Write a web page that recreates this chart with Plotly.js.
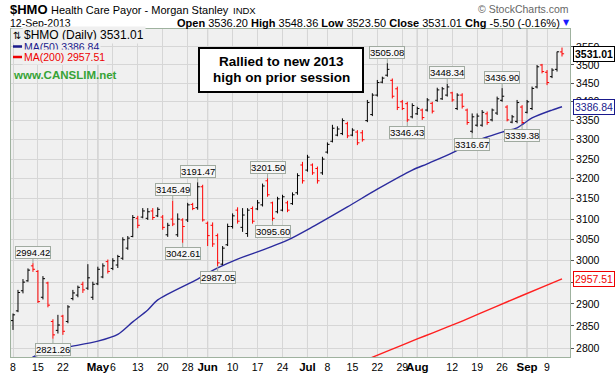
<!DOCTYPE html>
<html>
<head>
<meta charset="utf-8">
<script src="https://cdn.plot.ly/plotly-3.0.1.min.js"></script>
<style>html,body{margin:0;padding:0;background:#fff;}#chart{width:615px;height:377px;}</style>
</head>
<body>
<div id="chart"></div>
<script>
const dates = [
'2013-04-08','2013-04-09','2013-04-10','2013-04-11','2013-04-12','2013-04-15','2013-04-16','2013-04-17','2013-04-18','2013-04-19',
'2013-04-22','2013-04-23','2013-04-24','2013-04-25','2013-04-26','2013-04-29','2013-04-30',
'2013-05-01','2013-05-02','2013-05-03','2013-05-06','2013-05-07','2013-05-08','2013-05-09','2013-05-10','2013-05-13','2013-05-14',
'2013-05-15','2013-05-16','2013-05-17','2013-05-20','2013-05-21','2013-05-22','2013-05-23','2013-05-24','2013-05-28','2013-05-29',
'2013-05-30','2013-05-31',
'2013-06-03','2013-06-04','2013-06-05','2013-06-06','2013-06-07','2013-06-10','2013-06-11','2013-06-12','2013-06-13','2013-06-14',
'2013-06-17','2013-06-18','2013-06-19','2013-06-20','2013-06-21','2013-06-24','2013-06-25','2013-06-26','2013-06-27','2013-06-28',
'2013-07-01','2013-07-02','2013-07-03','2013-07-05','2013-07-08','2013-07-09','2013-07-10','2013-07-11','2013-07-12','2013-07-15',
'2013-07-16','2013-07-17','2013-07-18','2013-07-19','2013-07-22','2013-07-23','2013-07-24','2013-07-25','2013-07-26','2013-07-29',
'2013-07-30','2013-07-31',
'2013-08-01','2013-08-02','2013-08-05','2013-08-06','2013-08-07','2013-08-08','2013-08-09','2013-08-12','2013-08-13','2013-08-14',
'2013-08-15','2013-08-16','2013-08-19','2013-08-20','2013-08-21','2013-08-22','2013-08-23','2013-08-26','2013-08-27','2013-08-28',
'2013-08-29','2013-08-30',
'2013-09-03','2013-09-04','2013-09-05','2013-09-06','2013-09-09','2013-09-10','2013-09-11','2013-09-12'
];

const openPx = [
2862,2884,2930,2953,2988,2975,2915,2948,2860,2840,
2872,2860,2912,2920,2945,2936,2915,2946,2962,2998,
2982,2990,3006,3030,3058,3102,3105,3102,3120,3108,
3105,3062,3100,3062,3098,3098,3136,3128,3180,3090,
3085,3060,2992,3038,3082,3122,3080,3065,3126,3125,
3135,3195,3140,3118,3122,3140,3138,3165,3235,3222,
3235,3226,3215,3268,3296,3312,3316,3342,3312,3320,
3318,3350,3366,3418,3453,3472,3458,3435,3400,3395,
3360,3368,3378,3378,3396,3404,3408,3418,3424,3382,
3418,3378,3322,3338,3338,3368,3352,3370,3404,3386,
3346,3348,3386,3372,3382,3440,3500,3480,3468,3488,
3536.20
];
const highPx = [
2878,2932,2957,2982,2994.42,2978,2964,2951,2865,2875,
2875,2897,2932,2942,2951,2992,2951,2986,2994,3003,
3006,3014,3056,3059,3110,3108,3127,3127,3127,3129,
3110,3091,3145.49,3114,3102,3140,3140,3191.47,3185,3094,
3092,3065,3035,3089,3114,3129,3127,3127,3131,3147,
3188,3201.50,3143,3155,3160,3145,3166,3214,3243,3261,
3239,3231,3256,3293,3339,3335,3356,3347,3330,3325,
3325,3405,3423,3459,3468,3505.08,3463,3441,3405,3400,
3396,3387,3382,3410,3400,3438,3440,3448.34,3427,3423,
3423,3382,3369,3369,3378,3374,3382,3414,3436.90,3391,
3365,3405,3391,3405,3441,3500,3503,3486,3491,3537,
3548.36
];
const lowPx = [
2841,2881,2924,2951,2974,2902,2910,2892,2821.26,2833,
2830,2856,2908,2915,2925,2932,2909,2943,2959,2970,
2978,2983,3002,3026,3056,3078,3102,3098,3098,3105,
3074,3057,3083,3057,3042.61,3093,3122,3123,3094,3035,
3033,2987.05,2990,3035,3077,3089,3069,3057,3089,3122,
3131,3155,3095.60,3114,3119,3117,3135,3160,3188,3218,
3210,3188,3210,3264,3293,3309,3312,3304,3309,3286,
3295,3346,3362,3414,3450,3468,3409,3378,3378,3346.43,
3356,3365,3352,3374,3369,3400,3405,3414,3400,3378,
3382,3339,3316.67,3334,3334,3339,3348,3365,3400,3348,
3343,3343,3339.38,3369,3378,3436,3477,3445,3464,3482,
3523.50
];
const closePx = [
2875,2926,2950,2978,2980,2905,2958,2897,2830,2852,
2838,2893,2925,2938,2932,2960,2945,2980,2988,2975,
3000,3010,3050,3054,3104,3085,3120,3118,3104,3124,
3080,3085,3088,3100,3082,3135,3126,3180,3098,3060,
3040,2995,3030,3082,3108,3095,3110,3122,3095,3140,
3182,3160,3102,3150,3155,3122,3160,3208,3195,3255,
3215,3195,3250,3288,3330,3328,3350,3310,3325,3292,
3300,3398,3418,3452,3464,3488,3415,3385,3382,3352,
3390,3382,3358,3405,3375,3432,3435,3440,3405,3418,
3388,3345,3360,3362,3372,3345,3378,3408,3415,3352,
3360,3398,3345,3400,3436,3495,3482,3452,3486,3536.51,
3531.01
];

const ma50Dates = ['2013-04-11','2013-04-12','2013-04-18','2013-04-23','2013-05-01','2013-05-07','2013-05-10','2013-05-15','2013-05-17',
'2013-05-30','2013-06-05','2013-06-11','2013-06-19','2013-06-25','2013-07-02','2013-07-12','2013-07-22','2013-07-31','2013-08-05',
'2013-08-12','2013-08-16','2013-08-21','2013-08-26','2013-08-29','2013-09-04','2013-09-10','2013-09-12'];
const ma50Values = [2770,2781,2796,2803,2816,2831,2859,2886,2909,
2957,2983,3004,3030,3049,3081,3130,3174,3222,3238,
3266,3294,3307,3320,3331,3357,3378,3386.84];

const ma200Dates = ['2013-07-18','2013-07-24','2013-08-01','2013-08-06','2013-08-14','2013-08-23','2013-09-09','2013-09-12'];
const ma200Values = [2776,2794,2821,2834,2861,2895,2943,2957.51];

const weekDates = ['2013-04-08','2013-04-15','2013-04-22','2013-04-29','2013-05-01','2013-05-06','2013-05-13','2013-05-20','2013-05-28',
'2013-06-03','2013-06-10','2013-06-17','2013-06-24','2013-07-01','2013-07-08','2013-07-15','2013-07-22','2013-07-29','2013-08-01',
'2013-08-05','2013-08-12','2013-08-19','2013-08-26','2013-09-03','2013-09-09'];
const weekLabels = ['8','15','22','','May','6','13','20','28','Jun','10','17','24','Jul','8','15','22','29','Aug','','12','19','26','Sep','9'];
const monthStarts = ['2013-05-01','2013-06-03','2013-07-01','2013-08-01','2013-09-03'];

const yTicks = [2800,2850,2900,2950,3000,3050,3100,3150,3200,3250,3300,3350,3400,3450,3500,3550];

const calloutDates = ['2013-04-12','2013-04-18','2013-05-22','2013-05-24','2013-05-30','2013-06-05','2013-06-19','2013-06-20',
'2013-07-24','2013-07-30','2013-08-09','2013-08-16','2013-08-26','2013-08-30'];
const calloutKinds = ['H','L','H','L','H','L','H','L','H','L','H','L','H','L'];

const noteLines = ['Rallied to new 2013','high on prior session'];
const priorHighDate = '2013-07-24';

// ---------- layout helpers ----------
const PL = 11, PR = 570, PT = 29, PB = 357;
const px = x => (x - PL) / (PR - PL);
const py = y => (PB - y) / (PB - PT);
const FONT = 'Liberation Sans, Arial, sans-serif';
const idx = d => dates.indexOf(d);
const last = dates.length - 1;

const traces = [
  {
    type: 'ohlc', x: dates, open: openPx, high: highPx, low: lowPx, close: closePx,
    increasing: {line: {color: '#000000', width: 1}},
    decreasing: {line: {color: '#ff0000', width: 1}},
    tickwidth: 0.42, hoverinfo: 'skip', showlegend: false
  },
  {type: 'scatter', mode: 'lines', x: ma50Dates, y: ma50Values, line: {color: '#2b2b9e', width: 1.4, shape: 'spline', smoothing: 0.8}, hoverinfo: 'skip'},
  {type: 'scatter', mode: 'lines', x: ma200Dates, y: ma200Values, line: {color: '#ff2020', width: 1.4, shape: 'spline', smoothing: 0.6}, hoverinfo: 'skip'}
];

const annotations = [];
function txt(x, y, text, opts) {
  annotations.push(Object.assign({
    xref: 'paper', yref: 'paper', x: px(x), y: py(y), text: text, showarrow: false,
    xanchor: 'left', yanchor: 'middle', font: {family: FONT, size: 11, color: '#000'}
  }, opts || {}));
}

// header
txt(8, 9.5, '<b>$HMO</b>', {font: {family: FONT, size: 13, color: '#000'}});
txt(49, 10, 'Health Care Payor - Morgan Stanley', {font: {family: FONT, size: 11, color: '#000'}});
txt(231, 10.5, 'INDX', {font: {family: FONT, size: 9.5, color: '#000'}});
txt(8, 22.5, '12-Sep-2013', {font: {family: FONT, size: 10.5, color: '#000'}});
const chg = closePx[last] - closePx[last - 1];
const pct = chg / closePx[last - 1] * 100;
const stats = '<b>Open</b> ' + openPx[last].toFixed(2) + ' <b>High</b> ' + highPx[last].toFixed(2) +
  ' <b>Low</b> ' + lowPx[last].toFixed(2) + ' <b>Close</b> ' + closePx[last].toFixed(2) +
  ' <b>Chg</b> ' + chg.toFixed(2) + ' (' + pct.toFixed(2) + '%)';
txt(562, 22.5, stats, {xanchor: 'right', font: {family: FONT, size: 11, color: '#000'}});
txt(566, 22.5, '▼', {xanchor: 'center', font: {family: 'DejaVu Sans', size: 8, color: '#1a1aff'}});
txt(571, 8.5, '© StockCharts.com', {xanchor: 'right', font: {family: FONT, size: 10.5, color: '#666'}});

// legend
txt(11, 35.5, '⇅', {font: {family: 'DejaVu Sans', size: 10, color: '#000'}, bgcolor: '#f0f0f0'});
txt(22, 35.5, '$HMO (Daily) ' + closePx[last].toFixed(2), {font: {family: FONT, size: 12, color: '#000'}, bgcolor: '#f0f0f0'});
txt(22, 46.5, 'MA(50) ' + ma50Values[ma50Values.length - 1].toFixed(2), {font: {family: FONT, size: 10.5, color: '#1a1a8c'}, bgcolor: '#f0f0f0'});
txt(22, 57, 'MA(200) ' + ma200Values[ma200Values.length - 1].toFixed(2), {font: {family: FONT, size: 10.5, color: '#ee0000'}, bgcolor: '#f0f0f0'});
txt(11, 75, '<b>www.CANSLIM.net</b>', {font: {family: FONT, size: 11.5, color: '#36a336'}});

// note box text
txt(281, 62, '<b>' + noteLines[0] + '</b>', {xanchor: 'center', font: {family: FONT, size: 13.5, color: '#000'}});
txt(281, 77.5, '<b>' + noteLines[1] + '</b>', {xanchor: 'center', font: {family: FONT, size: 13.5, color: '#000'}});

// callouts
calloutDates.forEach((d, k) => {
  const i = idx(d);
  const v = calloutKinds[k] === 'H' ? highPx[i] : lowPx[i];
  annotations.push({
    xref: 'x', yref: 'y', x: i, y: Math.log10(v), text: v.toFixed(2),
    showarrow: true, arrowhead: 0, arrowwidth: 1, arrowcolor: '#a0aaa0', ax: 0,
    ay: calloutKinds[k] === 'H' ? -11 : 11,
    bgcolor: '#f6f6f6', bordercolor: '#a0aaa0', borderwidth: 1, borderpad: 0,
    font: {family: FONT, size: 9.5, color: '#000'}
  });
});

// right axis value tags
function tag(v, color, bold) {
  annotations.push({
    xref: 'paper', yref: 'y', x: 1, xshift: 3, y: Math.log10(v), xanchor: 'left', yanchor: 'middle',
    text: bold ? '<b>' + v.toFixed(2) + '</b>' : v.toFixed(2), showarrow: false,
    bgcolor: '#ffffff', bordercolor: color, borderwidth: 1, borderpad: 1,
    font: {family: FONT, size: 10.5, color: color}
  });
}
tag(closePx[last], '#000000', true);
tag(ma50Values[ma50Values.length - 1], '#1a1a8c', false);
tag(ma200Values[ma200Values.length - 1], '#ee0000', false);

const shapes = [];
monthStarts.forEach(d => shapes.push({
  type: 'line', xref: 'x', yref: 'paper', x0: idx(d), x1: idx(d), y0: 0, y1: 1,
  line: {color: '#b0b0b0', width: 1}, layer: 'below'
}));
// legend swatches
shapes.push({type: 'line', xref: 'paper', yref: 'paper', x0: px(13), x1: px(22), y0: py(46.5), y1: py(46.5), line: {color: '#1a1a8c', width: 2.5}});
shapes.push({type: 'line', xref: 'paper', yref: 'paper', x0: px(13), x1: px(22), y0: py(57), y1: py(57), line: {color: '#ee0000', width: 2.5}});
// prior high line and note box
const priorHigh = highPx[idx(priorHighDate)];
shapes.push({type: 'line', xref: 'paper', yref: 'y', x0: px(363), x1: px(565), y0: Math.log10(priorHigh), y1: Math.log10(priorHigh),
  line: {color: '#404040', width: 3}, layer: 'above'});
shapes.push({type: 'rect', xref: 'paper', yref: 'paper', x0: px(199), x1: px(363), y0: py(92), y1: py(48),
  line: {color: '#000', width: 2}, fillcolor: '#ffffff', layer: 'above'});

const layout = {
  width: 615, height: 377,
  margin: {l: PL, r: 615 - PR, t: PT, b: 377 - PB, pad: 0},
  paper_bgcolor: '#ffffff', plot_bgcolor: '#f0f0f0',
  font: {family: FONT, size: 10.5, color: '#000'},
  showlegend: false, hovermode: false, dragmode: false,
  xaxis: {
    type: 'category', categoryorder: 'array', categoryarray: dates,
    range: [-0.4, 111.6], rangeslider: {visible: false}, fixedrange: true,
    tickmode: 'array', tickvals: weekDates,
    ticktext: weekLabels.map(l => /[A-Za-z]/.test(l) ? '<span style="font-size:11.5px"><b>' + l + '</b></span>' : l),
    tickangle: 0, ticks: '', showgrid: true, gridcolor: '#d6d6d6', gridwidth: 1,
    tickfont: {family: FONT, size: 10.5, color: '#000'},
    showline: true, linecolor: '#9fb29f', linewidth: 1, mirror: true, zeroline: false, automargin: false
  },
  yaxis: {
    type: 'log', side: 'right', range: [Math.log10(2781.1), Math.log10(3600.6)], fixedrange: true,
    tickmode: 'array', tickvals: yTicks, ticktext: yTicks.map(String),
    ticks: 'outside', ticklen: 3, tickcolor: '#555', showgrid: true, gridcolor: '#d6d6d6', gridwidth: 1,
    tickfont: {family: FONT, size: 10.5, color: '#000'},
    showline: true, linecolor: '#9fb29f', linewidth: 1, mirror: true, zeroline: false, automargin: false
  },
  annotations: annotations,
  shapes: shapes
};

Plotly.newPlot('chart', traces, layout, {staticPlot: true, displayModeBar: false});
</script>
</body>
</html>
